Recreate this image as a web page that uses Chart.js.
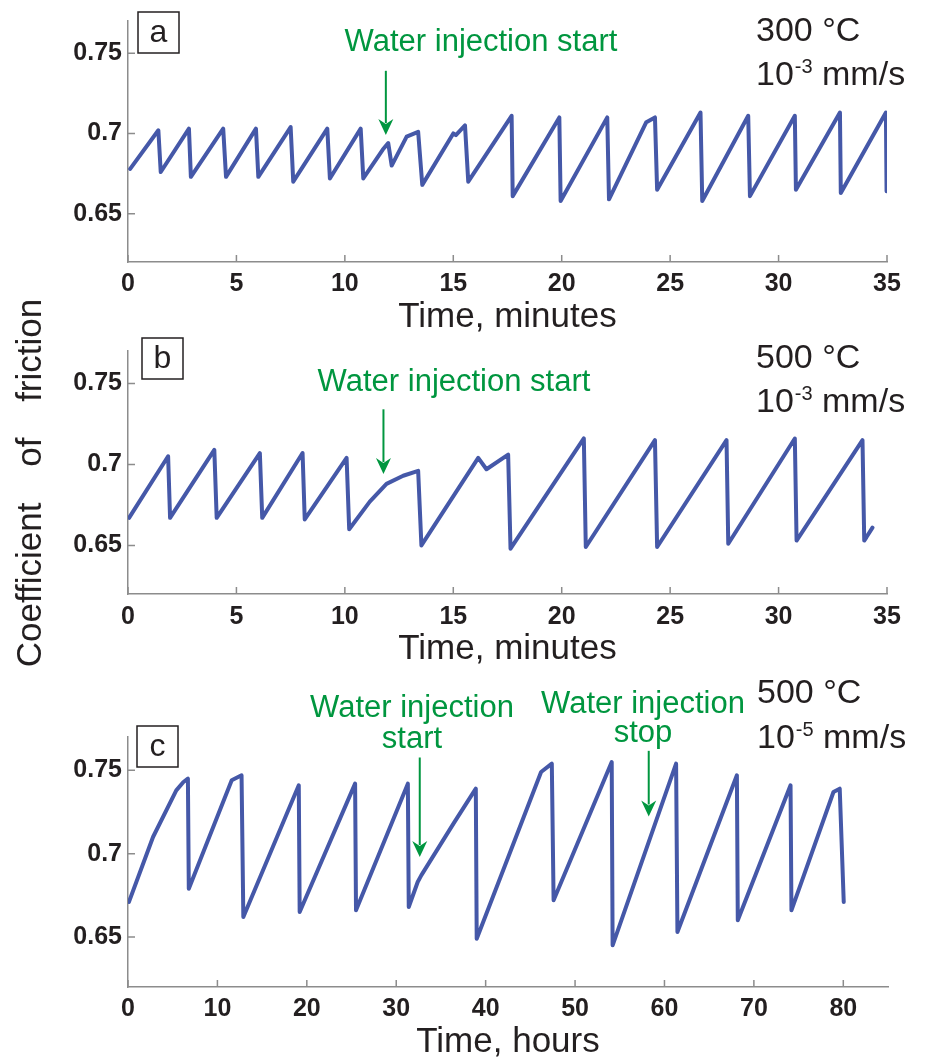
<!DOCTYPE html>
<html>
<head>
<meta charset="utf-8">
<script src="https://cdn.jsdelivr.net/npm/chart.js@4.4.1/dist/chart.umd.min.js"></script>
<style>
  html, body { margin: 0; padding: 0; background: #fff; overflow: hidden; }
  body { width: 925px; height: 1061px; position: relative; }
  canvas { position: absolute; left: 0; }
  #ylabel {
    position: absolute; left: -171px; top: 463px; width: 400px; height: 40px;
    line-height: 40px; text-align: center; white-space: nowrap;
    font: 35px "Liberation Sans", Arial, sans-serif; color: #231f20;
    word-spacing: 26px; transform: rotate(-90deg);
  }
</style>
</head>
<body>
<canvas id="chartA" width="925" height="350" style="top:0px"></canvas>
<canvas id="chartB" width="925" height="350" style="top:330px"></canvas>
<canvas id="chartC" width="925" height="391" style="top:670px"></canvas>
<div id="ylabel">Coefficient of friction</div>
<script>
'use strict';
// panel a: 300 C, 1e-3 mm/s (minutes)
const timeA = [0.1, 1.40, 1.51, 2.81, 2.90, 4.39, 4.52, 5.90, 6.01, 7.50, 7.62, 9.19, 9.31, 10.73, 10.85,
  11.75, 12.00, 12.16, 12.85, 13.38, 13.57, 15.00, 15.12, 15.54, 15.69, 17.69, 17.74, 19.89, 19.95,
  22.10, 22.18, 23.90, 24.30, 24.40, 26.40, 26.48, 28.60, 28.68, 30.75, 30.80, 32.83, 32.87, 34.95, 34.98];
const frictionA = [0.678, 0.702, 0.676, 0.703, 0.673, 0.703, 0.673, 0.703, 0.673, 0.704, 0.670, 0.703, 0.672, 0.703, 0.672,
  0.690, 0.694, 0.680, 0.698, 0.701, 0.668, 0.700, 0.699, 0.705, 0.670, 0.711, 0.661, 0.710, 0.658,
  0.710, 0.659, 0.707, 0.710, 0.665, 0.713, 0.658, 0.711, 0.661, 0.711, 0.665, 0.713, 0.663, 0.713, 0.664];

// panel b: 500 C, 1e-3 mm/s (minutes)
const timeB = [0.05, 1.85, 1.94, 3.98, 4.09, 6.08, 6.19, 8.05, 8.15, 10.08, 10.20, 11.15, 11.92, 12.69, 13.38,
  13.53, 16.15, 16.53, 17.53, 17.64, 21.02, 21.11, 24.30, 24.40, 27.60, 27.68, 30.75, 30.83, 33.87, 33.95, 34.05, 34.33];
const frictionB = [0.667, 0.705, 0.667, 0.709, 0.667, 0.707, 0.667, 0.707, 0.666, 0.704, 0.660, 0.677, 0.688, 0.693, 0.696,
  0.650, 0.704, 0.697, 0.706, 0.648, 0.716, 0.649, 0.715, 0.649, 0.715, 0.651, 0.716, 0.653, 0.715, 0.653, 0.655, 0.661];

// panel c: 500 C, 1e-5 mm/s (hours)
const timeC = [0.1, 2.8, 5.4, 6.2, 6.7, 6.8, 11.6, 12.7, 12.9, 19.1, 19.2, 25.4, 25.5, 31.3, 31.4, 32.4, 32.8,
  36.4, 38.9, 39.0, 46.2, 47.4, 47.6, 54.1, 54.2, 61.3, 61.45, 68.1, 68.2, 74.1, 74.2, 78.9, 79.6, 80.05];
const frictionC = [0.671, 0.710, 0.738, 0.743, 0.745, 0.679, 0.744, 0.747, 0.662, 0.741, 0.665, 0.742, 0.666, 0.742, 0.668, 0.683, 0.687,
  0.718, 0.739, 0.649, 0.749, 0.754, 0.672, 0.755, 0.645, 0.754, 0.653, 0.747, 0.660, 0.741, 0.666, 0.737, 0.739, 0.671];

const frictionTicks = [0.65, 0.7, 0.75];

Chart.defaults.font.family = '"Liberation Sans", Arial, Helvetica, sans-serif';
const ink = '#231f20';
const axisGrey = '#8c8c8c';
const lineBlue = '#4558a8';
const noteGreen = '#00963f';
const textFont = '"Liberation Sans", Arial, sans-serif';

// extra drawing per canvas (canvas-local pixels)
const panelDecor = {
  chartA: {
    box: { x: 138, y: 12, letter: 'a' },
    cond: { x: 756, y1: 41, y2: 85, temp: '300', exp: '-3' },
    notes: [{ lines: ['Water injection start'], x: 481, y: [51] }],
    arrows: [{ t: 11.89, from: 0.739, to: 0.699 }]
  },
  chartB: {
    box: { x: 142, y: 8, letter: 'b' },
    cond: { x: 756, y1: 38, y2: 82, temp: '500', exp: '-3' },
    notes: [{ lines: ['Water injection start'], x: 454, y: [61] }],
    arrows: [{ t: 11.78, from: 0.734, to: 0.694 }]
  },
  chartC: {
    box: { x: 137, y: 56, letter: 'c' },
    cond: { x: 757, y1: 33, y2: 78, temp: '500', exp: '-5' },
    notes: [
      { lines: ['Water injection', 'start'], x: 412, y: [47, 78] },
      { lines: ['Water injection', 'stop'], x: 643, y: [43, 72] }
    ],
    arrows: [{ t: 32.63, from: 0.7577, to: 0.698 }, { t: 58.24, from: 0.7617, to: 0.7223 }]
  }
};

const decor = {
  id: 'decor',
  beforeDatasetsDraw(chart) {
    // inward tick marks
    const { ctx, chartArea: a, scales: { x, y } } = chart;
    ctx.save();
    ctx.strokeStyle = axisGrey;
    ctx.lineWidth = 1.5;
    ctx.beginPath();
    x.ticks.forEach(t => {
      const px = x.getPixelForValue(t.value);
      ctx.moveTo(px, a.bottom);
      ctx.lineTo(px, a.bottom - 7);
    });
    y.ticks.forEach(t => {
      const py = y.getPixelForValue(t.value);
      ctx.moveTo(a.left, py);
      ctx.lineTo(a.left + 7, py);
    });
    ctx.stroke();
    ctx.restore();
  },
  afterDraw(chart) {
    const d = panelDecor[chart.canvas.id];
    const { ctx, scales: { x, y } } = chart;
    ctx.save();

    // panel letter box
    ctx.strokeStyle = ink;
    ctx.lineWidth = 1.5;
    ctx.strokeRect(d.box.x, d.box.y, 41, 41);
    ctx.fillStyle = ink;
    ctx.font = '32px ' + textFont;
    ctx.textAlign = 'center';
    ctx.textBaseline = 'alphabetic';
    ctx.fillText(d.box.letter, d.box.x + 20.5, d.box.y + 30);

    // temperature and rate
    ctx.textAlign = 'left';
    ctx.font = '34px ' + textFont;
    ctx.fillText(d.cond.temp + ' \u00b0C', d.cond.x, d.cond.y1);
    ctx.fillText('10', d.cond.x, d.cond.y2);
    const w1 = ctx.measureText('10').width;
    ctx.font = '20px ' + textFont;
    ctx.fillText(d.cond.exp, d.cond.x + w1 + 1, d.cond.y2 - 12);
    const w2 = ctx.measureText(d.cond.exp).width;
    ctx.font = '34px ' + textFont;
    ctx.fillText(' mm/s', d.cond.x + w1 + 1 + w2, d.cond.y2);

    // green notes
    ctx.fillStyle = noteGreen;
    ctx.strokeStyle = noteGreen;
    ctx.font = '31px ' + textFont;
    ctx.textAlign = 'center';
    d.notes.forEach(n => n.lines.forEach((s, i) => ctx.fillText(s, n.x, n.y[i])));

    // arrows
    d.arrows.forEach(ar => {
      const px = x.getPixelForValue(ar.t);
      const y0 = y.getPixelForValue(ar.from);
      const y1 = y.getPixelForValue(ar.to);
      ctx.lineWidth = 2;
      ctx.beginPath();
      ctx.moveTo(px, y0);
      ctx.lineTo(px, y1 - 12);
      ctx.stroke();
      ctx.beginPath();
      ctx.moveTo(px - 7.5, y1 - 16);
      ctx.lineTo(px, y1 - 11);
      ctx.lineTo(px + 7.5, y1 - 16);
      ctx.lineTo(px, y1);
      ctx.closePath();
      ctx.fill();
    });
    ctx.restore();
  }
};

function panel(canvasId, times, values, xMax, xStep, xTitle, lay) {
  const points = times.map((t, i) => ({ x: t, y: values[i] }));
  return new Chart(document.getElementById(canvasId), {
    type: 'line',
    data: {
      datasets: [{
        data: points,
        borderColor: lineBlue,
        borderWidth: 4,
        pointRadius: 0,
        tension: 0,
        fill: false,
        borderJoinStyle: 'round',
        borderCapStyle: 'round'
      }]
    },
    options: {
      responsive: false,
      animation: false,
      events: [],
      layout: { padding: { top: lay.top, right: lay.right, left: 0, bottom: 0 } },
      plugins: { legend: { display: false }, tooltip: { enabled: false } },
      scales: {
        x: {
          type: 'linear', min: 0, max: xMax,
          grid: { display: false, drawTicks: false },
          border: { color: axisGrey, width: 1.5 },
          ticks: {
            stepSize: xStep, includeBounds: false, autoSkip: false, maxRotation: 0,
            padding: lay.tickPad, color: ink, font: { size: 25, weight: 'bold' }
          },
          title: {
            display: true, text: xTitle, color: ink,
            font: { size: 35, lineHeight: 1 }, padding: { top: 0, bottom: lay.titlePad }
          },
          afterFit: s => { s.height = lay.xHeight; }
        },
        y: {
          type: 'linear', min: 0.62, max: 0.77,
          grid: { display: false, drawTicks: false },
          border: { color: axisGrey, width: 1.5 },
          afterBuildTicks: s => { s.ticks = frictionTicks.map(v => ({ value: v })); },
          ticks: {
            padding: 6, color: ink, font: { size: 25, weight: 'bold' },
            callback: v => String(+Number(v).toFixed(2))
          },
          afterFit: s => { s.width = 128; }
        }
      }
    },
    plugins: [decor]
  });
}

panel('chartA', timeA, frictionA, 35, 5, 'Time, minutes',
  { top: 12, right: 38, xHeight: 88, tickPad: 7, titlePad: 15 });
panel('chartB', timeB, frictionB, 35, 5, 'Time, minutes',
  { top: 14, right: 38, xHeight: 86, tickPad: 8, titlePad: 13 });
panel('chartC', timeC, frictionC, 85, 10, 'Time, hours',
  { top: 67, right: 37, xHeight: 74, tickPad: 7, titlePad: 1 });
</script>
</body>
</html>
